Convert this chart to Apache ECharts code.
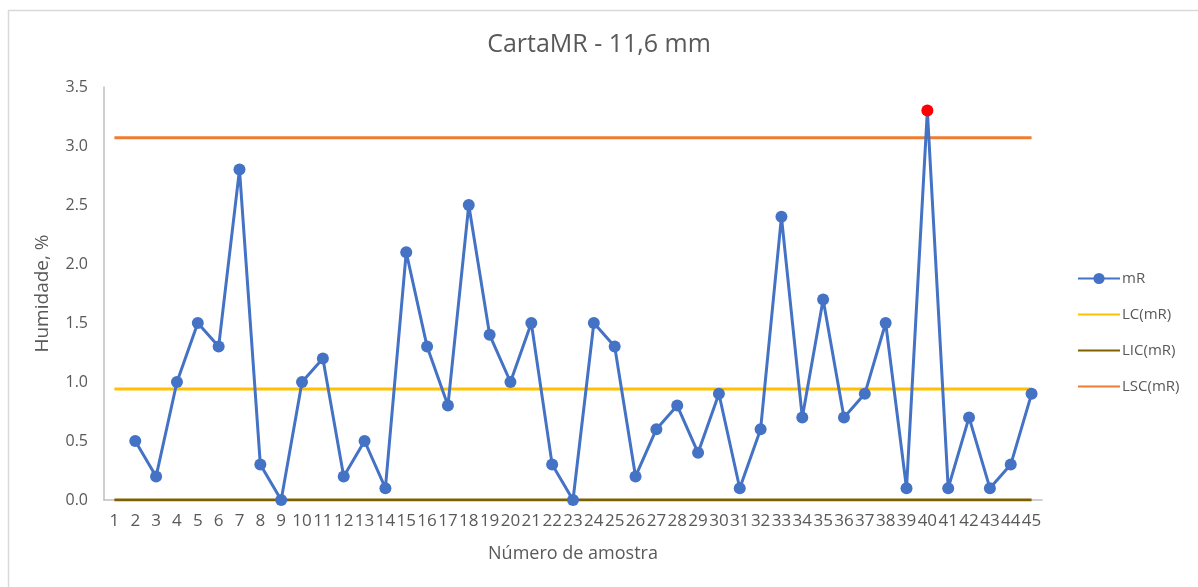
<!DOCTYPE html>
<html>
<head>
<meta charset="utf-8">
<title>CartaMR - 11,6 mm</title>
<script src="https://cdn.jsdelivr.net/npm/echarts@6/dist/echarts.min.js"></script>
<style>
    html, body { margin: 0; padding: 0; background: #fff; }
    #chart { width: 1198px; height: 587px; }
</style>
</head>
<body>
<div id="chart"></div>
<script>
// Dados
const amostras = Array.from({ length: 45 }, (_, i) => String(i + 1))
const mR = [null, 0.5, 0.2, 1.0, 1.5, 1.3, 2.8, 0.3, 0.0, 1.0,
    1.2, 0.2, 0.5, 0.1, 2.1, 1.3, 0.8, 2.5, 1.4, 1.0,
    1.5, 0.3, 0.0, 1.5, 1.3, 0.2, 0.6, 0.8, 0.4, 0.9,
    0.1, 0.6, 2.4, 0.7, 1.7, 0.7, 0.9, 1.5, 0.1, 3.3,
    0.1, 0.7, 0.1, 0.3, 0.9]
const foraDeControlo = [40]   // amostras acima do LSC
const LC = 0.94
const LIC = 0
const LSC = 3.07

const textColor = '#595959'
const font = '"Open Sans", "Liberation Sans", sans-serif'

const flat = v => amostras.map(() => v)

const mRData = mR.map((v, i) => {
    if (foraDeControlo.includes(i + 1)) {
        return { value: v, itemStyle: { color: '#FF0000' } }
    }
    return v
})

// legenda das linhas de limite sem marcador
const semMarcador = name => ({ name, itemStyle: { opacity: 0 } })

const chart = echarts.init(document.getElementById('chart'))
chart.setOption({
    backgroundColor: '#fff',
    animation: false,
    textStyle: { fontFamily: font, color: textColor },
    graphic: [{
        type: 'rect',
        left: 6, top: 8,
        shape: { width: 1300, height: 700 },
        style: { fill: 'none', stroke: '#D9D9D9', lineWidth: 1.5 },
        silent: true
    }],
    title: {
        text: 'CartaMR - 11,6 mm',
        left: 'center',
        top: 27,
        textStyle: { fontFamily: font, fontSize: 25, fontWeight: 'normal', color: textColor }
    },
    legend: {
        orient: 'vertical',
        left: 1072,
        top: 266,
        itemWidth: 42,
        itemHeight: 14,
        itemGap: 21,
        textStyle: { fontFamily: font, fontSize: 15, color: textColor, padding: [0, 0, 0, -3] },
        data: ['mR', semMarcador('LC(mR)'), semMarcador('LIC(mR)'), semMarcador('LSC(mR)')]
    },
    grid: { left: 104, right: 156, top: 87, bottom: 87 },
    xAxis: {
        type: 'category',
        data: amostras,
        boundaryGap: true,
        name: 'Número de amostra',
        nameLocation: 'middle',
        nameGap: 45,
        nameTextStyle: { fontFamily: font, fontSize: 18, color: textColor },
        axisLine: { lineStyle: { color: '#BFBFBF', width: 1.5 } },
        axisTick: { show: false },
        axisLabel: { interval: 0, fontSize: 17, color: textColor, margin: 13, fontFamily: font }
    },
    yAxis: {
        type: 'value',
        min: 0, max: 3.5, interval: 0.5,
        name: 'Humidade, %',
        nameLocation: 'middle',
        nameGap: 52,
        nameTextStyle: { fontFamily: font, fontSize: 19, color: textColor },
        axisLine: { show: true, lineStyle: { color: '#BFBFBF', width: 1.5 } },
        axisTick: { show: false },
        splitLine: { show: false },
        axisLabel: { formatter: v => v.toFixed(1), fontSize: 16, color: textColor, margin: 16, fontFamily: font }
    },
    series: [
        {
            name: 'LC(mR)', type: 'line', data: flat(LC), symbol: 'none',
            lineStyle: { color: '#FFC000', width: 3 }, itemStyle: { color: '#FFC000' }, z: 2
        },
        {
            name: 'LIC(mR)', type: 'line', data: flat(LIC), symbol: 'none',
            lineStyle: { color: '#7F6000', width: 3 }, itemStyle: { color: '#7F6000' }, z: 2
        },
        {
            name: 'LSC(mR)', type: 'line', data: flat(LSC), symbol: 'none',
            lineStyle: { color: '#ED7D31', width: 3 }, itemStyle: { color: '#ED7D31' }, z: 2
        },
        {
            name: 'mR', type: 'line', data: mRData,
            symbol: 'circle', symbolSize: 12, showAllSymbol: true,
            lineStyle: { color: '#4472C4', width: 3 },
            itemStyle: { color: '#4472C4' }, z: 3
        }
    ]
})
</script>
</body>
</html>
